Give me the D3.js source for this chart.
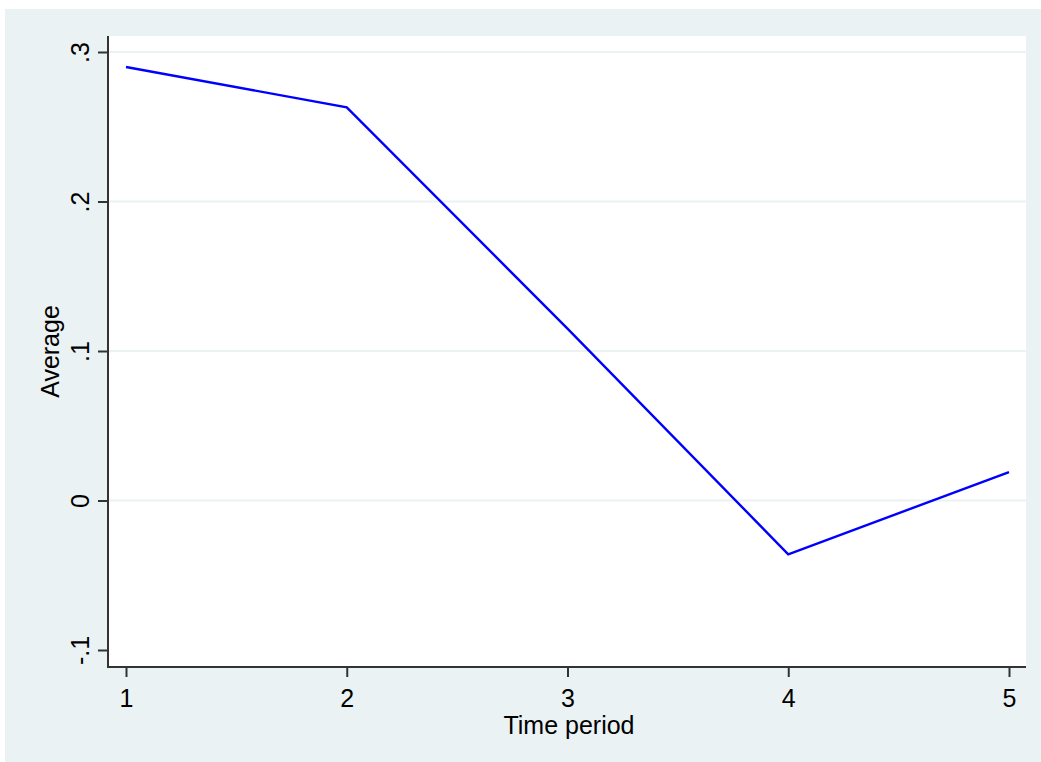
<!DOCTYPE html>
<html>
<head>
<meta charset="utf-8">
<script src="https://cdn.jsdelivr.net/npm/d3@7"></script>
<style>
  body { margin: 0; background: #fff; }
  text { font-family: "Liberation Sans", Arial, sans-serif; fill: #000; }
</style>
</head>
<body>
<svg id="chart" width="1041" height="762"></svg>
<script>
// values
var periods = [1, 2, 3, 4, 5];
var average = [0.290, 0.263, 0.115, -0.036, 0.019];
var yTicks = [-0.1, 0, 0.1, 0.2, 0.3];
var yTickLabels = ["-.1", "0", ".1", ".2", ".3"];
var xTicks = [1, 2, 3, 4, 5];
var yGrid = [0, 0.1, 0.2, 0.3];

var svg = d3.select("#chart");
var plot = { left: 108, right: 1026, top: 36, bottom: 667 };
var fontSize = "25px";

var x = d3.scaleLinear().domain([1, 5]).range([126, 1009]);
var y = d3.scaleLinear().domain([-0.1, 0.3]).range([650, 52]);

// outer background
svg.append("rect")
  .attr("x", 5).attr("y", 9)
  .attr("width", 1036).attr("height", 753)
  .attr("fill", "#EAF2F3");

// plot region
svg.append("rect")
  .attr("x", plot.left).attr("y", plot.top)
  .attr("width", plot.right - plot.left).attr("height", plot.bottom - plot.top)
  .attr("fill", "#fff");

// gridlines
svg.append("g").selectAll("line")
  .data(yGrid).enter()
  .append("line")
  .attr("x1", plot.left).attr("x2", plot.right)
  .attr("y1", function(d) { return y(d); })
  .attr("y2", function(d) { return y(d); })
  .attr("stroke", "#EAF2F3")
  .attr("stroke-width", 2);

// the series
var line = d3.line()
  .x(function(d, i) { return x(periods[i]); })
  .y(function(d) { return y(d); });

svg.append("path")
  .datum(average)
  .attr("d", line)
  .attr("fill", "none")
  .attr("stroke", "#0000FF")
  .attr("stroke-width", 2.4);

// y axis
var yAxis = svg.append("g")
  .attr("transform", "translate(" + plot.left + ",0)")
  .call(d3.axisLeft(y)
    .tickValues(yTicks)
    .tickSize(10)
    .tickSizeOuter(0)
    .tickFormat(function(d, i) { return yTickLabels[i]; }));
yAxis.select(".domain").remove();
yAxis.selectAll(".tick line").attr("stroke", "#333").attr("stroke-width", 2);
yAxis.selectAll(".tick text")
  .attr("x", null).attr("dy", null)
  .attr("text-anchor", "middle")
  .attr("transform", "translate(-19,0) rotate(-90)")
  .style("font-size", fontSize)
  .style("font-family", "'Liberation Sans', Arial, sans-serif");
yAxis.append("line")
  .attr("x1", 0).attr("x2", 0)
  .attr("y1", plot.top).attr("y2", plot.bottom + 1)
  .attr("stroke", "#333").attr("stroke-width", 2);

// x axis
var xAxis = svg.append("g")
  .attr("transform", "translate(0," + plot.bottom + ")")
  .call(d3.axisBottom(x)
    .tickValues(xTicks)
    .tickSize(10)
    .tickSizeOuter(0)
    .tickFormat(d3.format("d")));
xAxis.select(".domain").remove();
xAxis.selectAll(".tick line").attr("stroke", "#333").attr("stroke-width", 2);
xAxis.selectAll(".tick text")
  .attr("y", 40).attr("dy", null)
  .style("font-size", fontSize)
  .style("font-family", "'Liberation Sans', Arial, sans-serif");
xAxis.append("line")
  .attr("x1", plot.left - 1).attr("x2", plot.right)
  .attr("y1", 0).attr("y2", 0)
  .attr("stroke", "#333").attr("stroke-width", 2);

// axis titles
svg.append("text")
  .attr("transform", "translate(59," + ((plot.top + plot.bottom) / 2) + ") rotate(-90)")
  .attr("text-anchor", "middle")
  .style("font-size", fontSize)
  .text("Average");

svg.append("text")
  .attr("x", (plot.left + plot.right) / 2 + 2)
  .attr("y", 734)
  .attr("text-anchor", "middle")
  .style("font-size", fontSize)
  .text("Time period");
</script>
</body>
</html>
